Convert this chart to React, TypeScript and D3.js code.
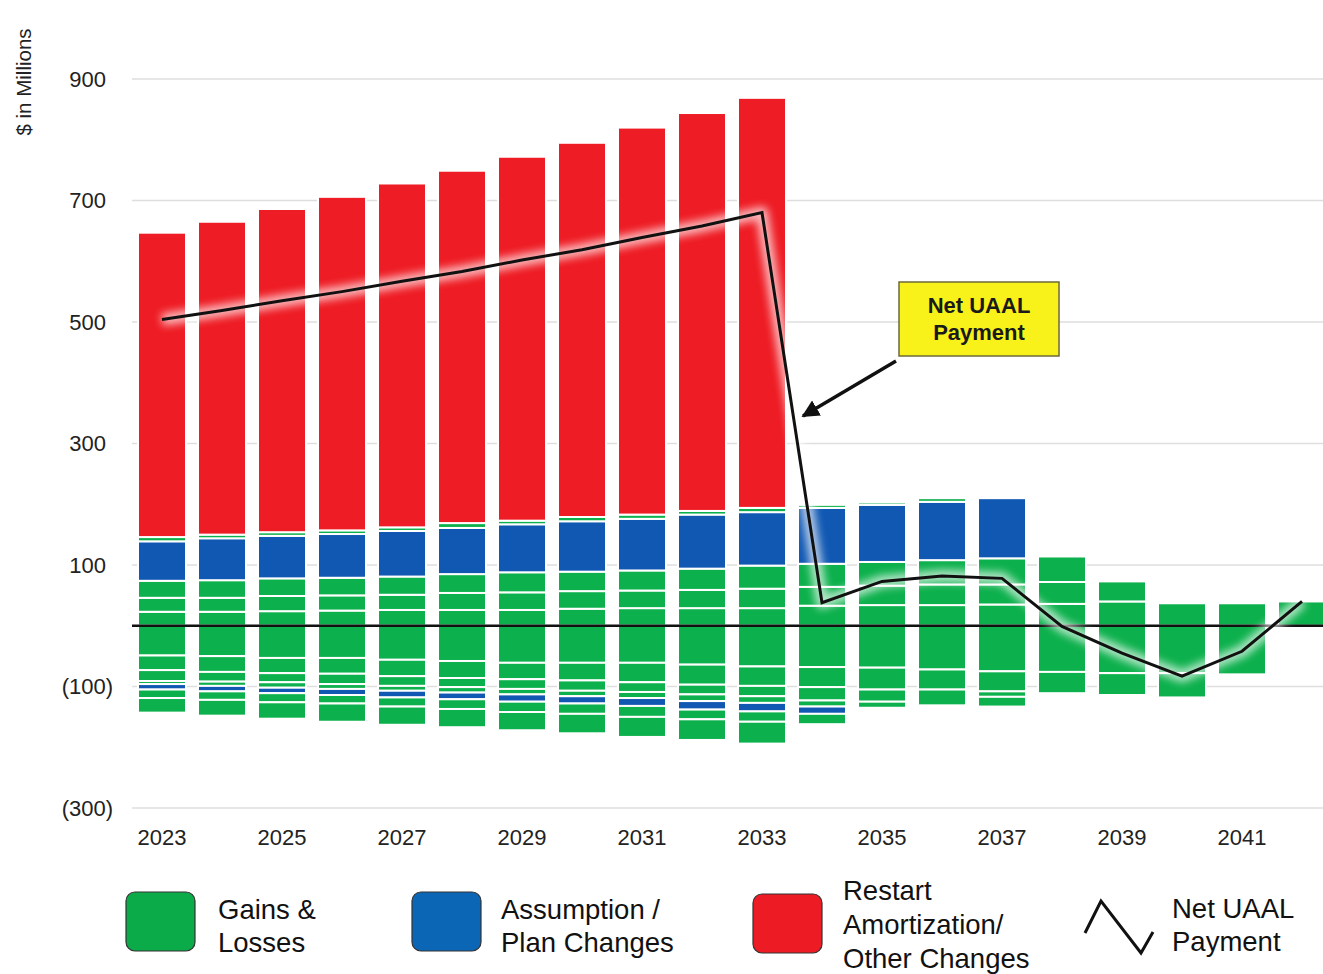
import React from "react";
import * as d3 from "d3";

// Fiscal years on the category axis
const years = [
  2023, 2024, 2025, 2026, 2027, 2028, 2029, 2030, 2031, 2032,
  2033, 2034, 2035, 2036, 2037, 2038, 2039, 2040, 2041, 2042,
];

// Amortization layers ($ millions), stacked upward from zero in this order
const gainsPos1 = [23, 23, 24, 25, 26, 26, 26, 28, 29, 29, 29, 33, 34, 34, 35, 36, 40, 37, 37, 40];
const gainsPos2 = [23, 23, 25, 25, 25, 28, 29, 29, 29, 30, 32, 31, 32, 34, 33, 36, 33, 0, 0, 0];
const gainsPos3 = [28, 29, 29, 29, 30, 31, 33, 32, 33, 35, 38, 38, 39, 40, 43, 42, 0, 0, 0, 0];
const assumptionPos = [65, 69, 70, 72, 75, 76, 79, 83, 85, 89, 88, 92, 94, 96, 99, 0, 0, 0, 0, 0];
const gainsPos4 = [7, 6, 6, 6, 6, 8, 6, 7, 7, 6, 7, 5, 4, 6, 0, 0, 0, 0, 0, 0];
const restartPos = [501, 515, 532, 549, 566, 580, 599, 616, 637, 655, 675, 0, 0, 0, 0, 0, 0, 0, 0, 0];

// Layers stacked downward from zero in this order
const gainsNeg1 = [-49, -50, -53, -53, -56, -58, -61, -61, -61, -64, -67, -68, -69, -72, -75, -76, -78, -78, -80, 0];
const gainsNeg2 = [-24, -26, -25, -26, -27, -28, -27, -29, -32, -33, -32, -33, -36, -33, -33, -35, -36, -40, 0, 0];
const gainsNeg3 = [-18, -16, -15, -17, -16, -15, -16, -17, -16, -16, -17, -22, -20, -26, -9, 0, 0, 0, 0, 0];
const gainsNeg4 = [-5, -7, -9, -8, -8, -9, -9, -9, -10, -11, -11, -10, -10, 0, -16, 0, 0, 0, 0, 0];
const assumptionNeg = [-9, -9, -9, -10, -11, -11, -12, -12, -13, -14, -14, -12, 0, 0, 0, 0, 0, 0, 0, 0];
const gainsNeg5 = [-14, -14, -15, -14, -15, -16, -17, -17, -18, -16, -17, 0, 0, 0, 0, 0, 0, 0, 0, 0];
const gainsNeg6 = [-24, -26, -27, -30, -30, -30, -30, -32, -33, -34, -36, -17, 0, 0, 0, 0, 0, 0, 0, 0];

// Net UAAL payment line
const netPayment = [504, 519, 535, 550, 567, 583, 602, 619, 639, 658, 680, 38, 73, 82, 78, -1, -45, -83, -42, 40];

const yTicks = [900, 700, 500, 300, 100, -100, -300];
const xLabelYears = [2023, 2025, 2027, 2029, 2031, 2033, 2035, 2037, 2039, 2041];

const GREEN = "#0cb04c";
const BLUE = "#1158b3";
const RED = "#ee1c24";

const layers: { key: string; values: number[]; color: string }[] = [
  { key: "gp1", values: gainsPos1, color: GREEN },
  { key: "gp2", values: gainsPos2, color: GREEN },
  { key: "gp3", values: gainsPos3, color: GREEN },
  { key: "ap", values: assumptionPos, color: BLUE },
  { key: "gp4", values: gainsPos4, color: GREEN },
  { key: "rp", values: restartPos, color: RED },
  { key: "gn1", values: gainsNeg1, color: GREEN },
  { key: "gn2", values: gainsNeg2, color: GREEN },
  { key: "gn3", values: gainsNeg3, color: GREEN },
  { key: "gn4", values: gainsNeg4, color: GREEN },
  { key: "an", values: assumptionNeg, color: BLUE },
  { key: "gn5", values: gainsNeg5, color: GREEN },
  { key: "gn6", values: gainsNeg6, color: GREEN },
];

const W = 1323;
const H = 974;
const FONT = "'Liberation Sans', Arial, sans-serif";

export default function App() {
  const x = d3
    .scaleBand<number>()
    .domain(years)
    .range([132, 1332])
    .paddingInner(0.2)
    .paddingOuter(0.1);
  const y = d3.scaleLinear().domain([-300, 900]).range([808, 79]);

  const table = years.map((yr, i) => {
    const row: Record<string, number> = { year: yr };
    layers.forEach((l) => (row[l.key] = l.values[i]));
    return row;
  });
  const stacked = d3
    .stack<Record<string, number>>()
    .keys(layers.map((l) => l.key))
    .offset(d3.stackOffsetDiverging)(table);

  const cx = (yr: number) => (x(yr) ?? 0) + x.bandwidth() / 2;
  const linePath =
    d3
      .line<number>()
      .x((_, i) => cx(years[i]))
      .y((v) => y(v))(netPayment) ?? "";

  const fmt = (v: number) => (v < 0 ? `(${-v})` : `${v}`);

  return (
    <svg
      width={W}
      height={H}
      style={{ position: "absolute", left: 0, top: 0, background: "#fff" }}
      fontFamily={FONT}
    >
      <defs>
        <filter id="glow" filterUnits="userSpaceOnUse" x={0} y={0} width={W} height={H}>
          <feGaussianBlur stdDeviation={4} />
        </filter>
        <marker
          id="arrowHead"
          viewBox="0 0 10 10"
          refX={9}
          refY={5}
          markerWidth={5}
          markerHeight={5}
          orient="auto"
          markerUnits="strokeWidth"
        >
          <path d="M0,0 L10,5 L0,10 z" fill="#111" />
        </marker>
      </defs>

      {/* horizontal gridlines */}
      {yTicks.map((t) => (
        <line
          key={`g${t}`}
          x1={132}
          x2={W}
          y1={y(t)}
          y2={y(t)}
          stroke="#dedede"
          strokeWidth={1.5}
        />
      ))}

      {/* y tick labels */}
      {yTicks.map((t) => (
        <text
          key={`t${t}`}
          x={t < 0 ? 113 : 106}
          y={y(t)}
          dy="0.36em"
          textAnchor="end"
          fontSize={22}
          fill="#222"
        >
          {fmt(t)}
        </text>
      ))}

      <text
        transform={`translate(31,${82}) rotate(-90)`}
        textAnchor="middle"
        fontSize={20.5}
        fill="#222"
      >
        $ in Millions
      </text>

      {/* stacked bars */}
      {stacked.map((series, si) => (
        <g key={series.key} fill={layers[si].color}>
          {series.map((d, i) =>
            d[1] - d[0] === 0 ? null : (
              <rect
                key={i}
                x={x(years[i])}
                width={x.bandwidth()}
                y={y(d[1])}
                height={y(d[0]) - y(d[1])}
                stroke="#fff"
                strokeWidth={2}
              />
            )
          )}
        </g>
      ))}

      {/* zero baseline */}
      <line x1={132} x2={W} y1={y(0)} y2={y(0)} stroke="#111" strokeWidth={2.5} />

      {/* net payment line with soft halo */}
      <path
        d={linePath}
        fill="none"
        stroke="#fff"
        strokeWidth={12}
        opacity={0.7}
        filter="url(#glow)"
        strokeLinejoin="round"
      />
      <path d={linePath} fill="none" stroke="#111" strokeWidth={3} strokeLinejoin="miter" />

      {/* x tick labels */}
      {xLabelYears.map((yr) => (
        <text
          key={`x${yr}`}
          x={cx(yr)}
          y={845}
          textAnchor="middle"
          fontSize={22}
          fill="#222"
        >
          {yr}
        </text>
      ))}

      {/* callout */}
      <line
        x1={896}
        y1={361}
        x2={803}
        y2={416}
        stroke="#111"
        strokeWidth={3.5}
        markerEnd="url(#arrowHead)"
      />
      <rect x={899} y={282} width={160} height={74} fill="#f9f21a" stroke="#6b6a3a" strokeWidth={1.5} />
      <text x={979} y={313} textAnchor="middle" fontSize={22} fontWeight="bold" fill="#1a1a1a">
        Net UAAL
      </text>
      <text x={979} y={340} textAnchor="middle" fontSize={22} fontWeight="bold" fill="#1a1a1a">
        Payment
      </text>

      {/* legend */}
      <g fontSize={27.5} fill="#111">
        <rect x={126} y={892} width={69} height={59} rx={9} fill="#0bab4a" stroke="#333" strokeWidth={1.2} />
        <text x={218} y={919}>Gains &amp;</text>
        <text x={218} y={952}>Losses</text>

        <rect x={412} y={892} width={69} height={59} rx={9} fill="#0b67b6" stroke="#333" strokeWidth={1.2} />
        <text x={501} y={919}>Assumption /</text>
        <text x={501} y={952}>Plan Changes</text>

        <rect x={753} y={894} width={69} height={59} rx={9} fill="#ed1c24" stroke="#333" strokeWidth={1.2} />
        <text x={843} y={900}>Restart</text>
        <text x={843} y={934}>Amortization/</text>
        <text x={843} y={968}>Other Changes</text>

        <polyline
          points="1085,933 1101,901 1141,953 1153,932"
          fill="none"
          stroke="#111"
          strokeWidth={3}
        />
        <text x={1172} y={918}>Net UAAL</text>
        <text x={1172} y={951}>Payment</text>
      </g>
    </svg>
  );
}
